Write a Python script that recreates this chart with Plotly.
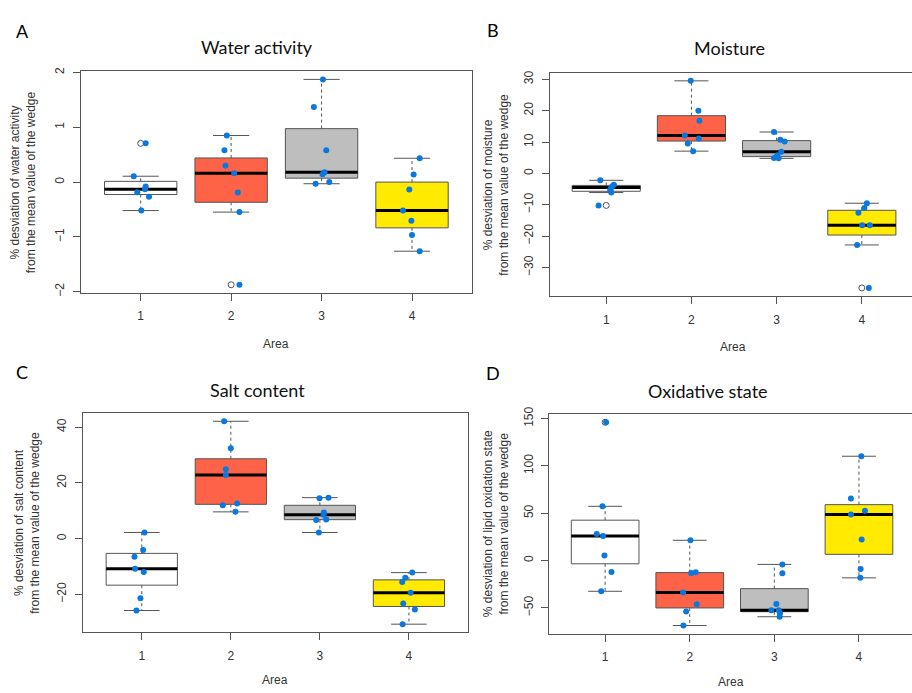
import math
import plotly.graph_objects as go

W, H = 912, 693

# ---------------- data ----------------
areas = [1, 2, 3, 4]
area_tick_labels = ["1", "2", "3", "4"]
box_fill = ["#FFFFFF", "#FF6347", "#BEBEBE", "#FFEA00"]

titles = ["Water activity", "Moisture", "Salt content", "Oxidative state"]
letters = ["A", "B", "C", "D"]
y_titles = [
    "% desviation of water activity<br>from the mean value of the wedge",
    "% desviation of moisture<br>from the mean value of the wedge",
    "% desviation of salt content<br>from the mean value of the wedge",
    "% desviation of lipid oxidation state<br>from the mean value of the wedge",
]
x_title = "Area"

# A - water activity (% deviation), per area
water_1 = [0.707, 0.107, -0.08, -0.13, -0.185, -0.27, -0.52]
water_2 = [0.851, 0.583, 0.298, 0.161, -0.19, -0.548, -1.875]
water_3 = [1.875, 1.369, 0.583, 0.179, 0.143, 0.0, -0.03]
water_4 = [0.435, 0.137, -0.137, -0.518, -0.708, -0.964, -1.262]
water_jit_1 = [0.055, -0.077, 0.055, 0.048, -0.038, 0.092, 0.007]
water_jit_2 = [-0.048, -0.074, -0.063, 0.033, 0.074, 0.092, 0.092]
water_jit_3 = [0.015, -0.085, 0.052, 0.033, 0.011, 0.085, -0.066]
water_jit_4 = [0.085, 0.018, -0.03, -0.1, -0.007, 0.0, 0.085]
water_ticks = [-2, -1, 0, 1, 2]

# B - moisture
moist_1 = [-2.2, -3.6, -4.05, -4.5, -5.3, -6.1, -10.2]
moist_2 = [29.5, 20.0, 16.8, 12.1, 11.1, 9.5, 7.1]
moist_3 = [13.2, 10.7, 10.2, 6.9, 5.8, 4.9, 4.8]
moist_4 = [-9.5, -11.0, -12.5, -16.5, -16.5, -22.8, -36.5]
moist_jit_1 = [-0.07, 0.09, 0.074, 0.059, 0.047, 0.059, -0.09]
moist_jit_2 = [-0.008, 0.082, 0.094, -0.078, 0.086, -0.043, 0.02]
moist_jit_3 = [-0.031, 0.043, 0.094, 0.055, 0.008, -0.031, 0.023]
moist_jit_4 = [0.059, 0.03, -0.04, 0.004, 0.094, -0.055, 0.082]
moist_ticks = [-30, -20, -10, 0, 10, 20, 30]

# C - salt content
salt_1 = [2.2, -4.1, -6.5, -10.8, -12.0, -21.4, -25.8]
salt_2 = [42.1, 32.4, 24.9, 22.8, 12.0, 12.6, 9.6]
salt_3 = [14.5, 14.7, 9.4, 8.6, 6.7, 6.9, 2.2]
salt_4 = [-12.2, -14.0, -15.6, -19.4, -23.3, -25.4, -30.7]
salt_jit_1 = [0.03, 0.015, -0.082, -0.075, 0.022, -0.015, -0.06]
salt_jit_2 = [-0.075, 0.0, -0.056, -0.056, -0.09, 0.071, 0.052]
salt_jit_3 = [-0.004, 0.097, 0.045, 0.041, -0.041, 0.071, -0.011]
salt_jit_4 = [0.037, -0.041, -0.075, 0.019, -0.064, 0.067, -0.071]
salt_ticks = [-20, 0, 20, 40]

# D - oxidative state
oxid_1 = [146.1, 57.3, 28.0, 25.9, 5.2, -12.1, -32.5]
oxid_2 = [21.4, -13.1, -12.4, -33.9, -46.3, -53.9, -68.7]
oxid_3 = [-4.1, -13.5, -45.9, -52.5, -52.5, -55.6, -59.4]
oxid_4 = [110.2, 65.6, 52.5, 48.7, 22.1, -9.0, -18.3]
oxid_jit_1 = [0.012, -0.032, -0.099, -0.024, -0.008, 0.075, -0.047]
oxid_jit_2 = [0.008, 0.016, 0.071, -0.079, 0.083, -0.043, -0.075]
oxid_jit_3 = [0.095, 0.095, 0.024, -0.035, 0.051, 0.067, 0.063]
oxid_jit_4 = [0.028, -0.095, 0.071, -0.095, 0.032, 0.02, 0.016]
oxid_ticks = [-50, 0, 50, 100, 150]

panels = [
    ([water_1, water_2, water_3, water_4], [water_jit_1, water_jit_2, water_jit_3, water_jit_4], water_ticks),
    ([moist_1, moist_2, moist_3, moist_4], [moist_jit_1, moist_jit_2, moist_jit_3, moist_jit_4], moist_ticks),
    ([salt_1, salt_2, salt_3, salt_4], [salt_jit_1, salt_jit_2, salt_jit_3, salt_jit_4], salt_ticks),
    ([oxid_1, oxid_2, oxid_3, oxid_4], [oxid_jit_1, oxid_jit_2, oxid_jit_3, oxid_jit_4], oxid_ticks),
]

# ---------------- layout geometry (pixels) ----------------
frames = [
    dict(l=81, r=471.7, t=64.3, b=290, xmax=4.66, right=True),
    dict(l=550, r=912, t=65.7, b=293.3, xmax=4.589, right=False),
    dict(l=83, r=467.7, t=412.3, b=635.3, xmax=4.66, right=True),
    dict(l=549.3, r=912, t=413.3, b=636.7, xmax=4.627, right=False),
]
title_pos = [(257, 40), (729, 41), (257, 389), (708, 389.3)]
letter_pos = [(22.7, 23.3), (492.7, 22.7), (22.3, 370), (493.3, 371.7)]
ytitle_pos = [(23.3, 177), (496.3, 179.5), (27, 523.8), (496.3, 525)]
xtitle_pos = [(275.7, 341.7), (733, 345), (275, 684), (731, 686)]

EDGE = "#555555"
TXT = "#333333"
POINT = "#0A78DC"
BW = 0.4
STAPLE = 0.2
AXFONT = "Liberation Sans, Arial, sans-serif"
TITLEFONT = "Lato, Open Sans, sans-serif"


def px(x):
    return x / W


def py(y):
    return 1 - y / H


def fivenum(v):
    s = sorted(v)
    n = len(s)
    n4 = math.floor((n + 3) / 2) / 2
    d = [1, n4, (n + 1) / 2, n + 1 - n4, n]
    return [0.5 * (s[math.floor(k) - 1] + s[math.ceil(k) - 1]) for k in d]


fig = go.Figure()
annotations = []
layout_axes = {}

for k, (groups, jits, yticks) in enumerate(panels):
    idx = k + 1
    xa = "x" if idx == 1 else f"x{idx}"
    ya = "y" if idx == 1 else f"y{idx}"

    wh_x, wh_y = [], []
    st_x, st_y = [], []
    med_x, med_y = [], []
    out_x, out_y = [], []
    pt_x, pt_y = [], []

    for i, (vals, jit) in enumerate(zip(groups, jits)):
        a = areas[i]
        f = fivenum(vals)
        q1, med, q3 = f[1], f[2], f[3]
        iqr = q3 - q1
        inside = [v for v in vals if q1 - 1.5 * iqr <= v <= q3 + 1.5 * iqr]
        outs = [v for v in vals if v not in inside]
        wlo, whi = min(inside), max(inside)

        fig.add_trace(go.Scatter(
            x=[a - BW, a + BW, a + BW, a - BW, a - BW], y=[q1, q1, q3, q3, q1],
            mode="lines", fill="toself", fillcolor=box_fill[i],
            line=dict(color=EDGE, width=1), xaxis=xa, yaxis=ya,
            hoverinfo="skip", showlegend=False))

        wh_x += [a, a, None, a, a, None]
        wh_y += [q3, whi, None, q1, wlo, None]
        st_x += [a - STAPLE, a + STAPLE, None, a - STAPLE, a + STAPLE, None]
        st_y += [whi, whi, None, wlo, wlo, None]
        med_x += [a - BW, a + BW, None]
        med_y += [med, med, None]
        out_x += [a] * len(outs)
        out_y += outs
        pt_x += [a + j for j in jit]
        pt_y += vals

    fig.add_trace(go.Scatter(x=wh_x, y=wh_y, mode="lines",
                             line=dict(color=EDGE, width=1, dash="3px,3px"),
                             xaxis=xa, yaxis=ya, hoverinfo="skip", showlegend=False))
    fig.add_trace(go.Scatter(x=st_x, y=st_y, mode="lines",
                             line=dict(color=EDGE, width=1),
                             xaxis=xa, yaxis=ya, hoverinfo="skip", showlegend=False))
    fig.add_trace(go.Scatter(x=med_x, y=med_y, mode="lines",
                             line=dict(color="#000000", width=3),
                             xaxis=xa, yaxis=ya, hoverinfo="skip", showlegend=False))
    fig.add_trace(go.Scatter(x=out_x, y=out_y, mode="markers",
                             marker=dict(symbol="circle-open", size=6, color=EDGE,
                                         line=dict(width=1, color=EDGE)),
                             xaxis=xa, yaxis=ya, hoverinfo="skip", showlegend=False))
    fig.add_trace(go.Scatter(x=pt_x, y=pt_y, mode="markers",
                             marker=dict(symbol="circle", size=6, color=POINT),
                             xaxis=xa, yaxis=ya, showlegend=False))

    allv = [v for g in groups for v in g]
    lo, hi = min(allv), max(allv)
    pad = 0.04 * (hi - lo)

    fr = frames[k]
    xkey = "xaxis" if idx == 1 else f"xaxis{idx}"
    ykey = "yaxis" if idx == 1 else f"yaxis{idx}"
    layout_axes[xkey] = dict(
        domain=[px(fr["l"]), px(fr["r"])], range=[0.34, fr["xmax"]],
        anchor=ya, tickvals=areas, ticktext=area_tick_labels,
        ticks="outside", ticklen=7, tickcolor=EDGE, tickwidth=1,
        showline=True, linecolor=EDGE, linewidth=1, mirror=True,
        showgrid=False, zeroline=False, ticklabelstandoff=5,
        tickfont=dict(family=AXFONT, size=12, color=TXT))
    layout_axes[ykey] = dict(
        domain=[py(fr["b"]), py(fr["t"])], range=[lo - pad, hi + pad],
        anchor=xa, tickvals=yticks, tickangle=-90,
        ticks="outside", ticklen=7, tickcolor=EDGE, tickwidth=1,
        showline=True, linecolor=EDGE, linewidth=1, mirror=fr["right"],
        showgrid=False, zeroline=False, ticklabelstandoff=4,
        tickfont=dict(family=AXFONT, size=12, color=TXT))

    tx, ty = title_pos[k]
    annotations.append(dict(text=titles[k], x=px(tx), y=py(ty), xref="paper", yref="paper",
                            xanchor="center", yanchor="middle", showarrow=False,
                            font=dict(family=TITLEFONT, size=18, color="#111111")))
    lx, ly = letter_pos[k]
    annotations.append(dict(text=letters[k], x=px(lx), y=py(ly), xref="paper", yref="paper",
                            xanchor="center", yanchor="middle", showarrow=False,
                            font=dict(family=TITLEFONT, size=18, color="#000000")))
    yx, yy = ytitle_pos[k]
    annotations.append(dict(text=y_titles[k], x=px(yx), y=py(yy), xref="paper", yref="paper",
                            xanchor="center", yanchor="middle", showarrow=False, textangle=-90,
                            font=dict(family=AXFONT, size=12, color=TXT)))
    xx, xy = xtitle_pos[k]
    annotations.append(dict(text=x_title, x=px(xx), y=py(xy), xref="paper", yref="paper",
                            xanchor="center", yanchor="middle", showarrow=False,
                            font=dict(family=AXFONT, size=12, color=TXT)))

fig.update_layout(
    width=W, height=H, margin=dict(l=0, r=0, t=0, b=0),
    paper_bgcolor="white", plot_bgcolor="white",
    showlegend=False, annotations=annotations, **layout_axes)

fig.write_html(
    "out.html",
    config={"responsive": False, "displayModeBar": False},
    post_script="document.body.style.margin='0';document.body.style.padding='0';"
                "document.body.style.overflow='hidden';"
                "document.documentElement.style.overflow='hidden';",
)
